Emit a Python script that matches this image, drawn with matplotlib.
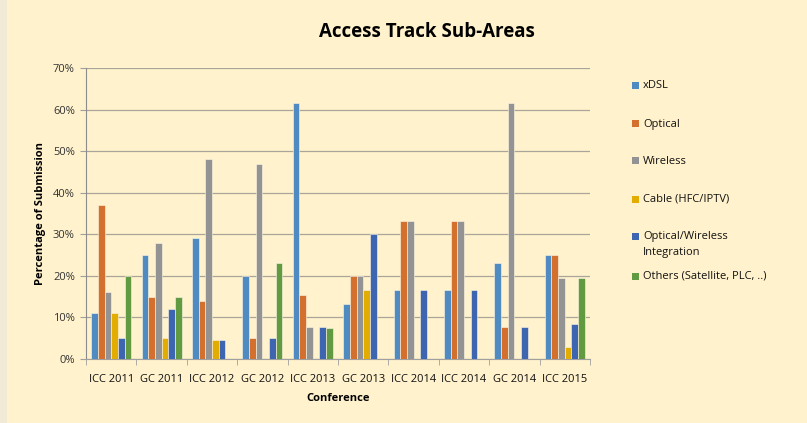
import matplotlib
matplotlib.use("Agg")
import matplotlib.pyplot as plt
import numpy as np
from matplotlib.patches import Rectangle

conferences = ["ICC 2011", "GC 2011", "ICC 2012", "GC 2012", "ICC 2013",
               "GC 2013", "ICC 2014", "ICC 2014", "GC 2014", "ICC 2015"]
series_names = ["xDSL", "Optical", "Wireless", "Cable (HFC/IPTV)",
                "Optical/Wireless\nIntegration", "Others (Satellite, PLC, ..)"]
xdsl     = [11, 25, 29, 20, 61.5, 13.3, 16.7, 16.7, 23.1, 25]
optical  = [37, 15, 14, 5, 15.4, 20, 33.3, 33.3, 7.7, 25]
wireless = [16, 28, 48, 47, 7.7, 20, 33.3, 33.3, 61.5, 19.4]
cable    = [11, 5, 4.5, 0, 0, 16.7, 0, 0, 0, 2.8]
owi      = [5, 12, 4.5, 5, 7.7, 30, 16.7, 16.7, 7.7, 8.3]
others   = [20, 15, 0, 23, 7.4, 0, 0, 0, 0, 19.4]
yticks = [0, 10, 20, 30, 40, 50, 60, 70]

values = [xdsl, optical, wireless, cable, owi, others]
colors = ["#4F8BC1", "#D4702D", "#939393", "#E2AC00", "#3E65B0", "#629A42"]

plt.rcParams['font.family'] = ['Open Sans', 'DejaVu Sans']
W, H = 807, 423
fig = plt.figure(figsize=(W/100, H/100), dpi=100)
bg = "#FFF2CC"
fig.patch.set_facecolor(bg)
fig.patches.append(Rectangle((0, 0), 7/W, 1, transform=fig.transFigure,
                             facecolor="#F2EAD6", edgecolor="none", zorder=0))

ax = fig.add_axes([86/W, 1-359/H, (590-86)/W, (359-68)/H])
ax.set_facecolor(bg)

x = np.arange(len(conferences))
bw = 0.1323
for i, (vals, c) in enumerate(zip(values, colors)):
    ax.bar(x + (i - 2.5) * bw, vals, width=bw, color=c,
           edgecolor="#FFF8E6", linewidth=0.4, zorder=3)

ax.set_xlim(-0.5, len(conferences) - 0.5)
ax.set_ylim(0, 70)
ax.set_yticks(yticks)
ax.set_yticklabels([f"{v}%" for v in yticks], fontsize=8, color="#333333")
ax.yaxis.grid(True, color="#A9A59A", linewidth=0.9, zorder=0)
ax.set_axisbelow(True)
ax.set_xticks(x)
ax.set_xticklabels(conferences, fontsize=8, color="#111111")
ax.set_xticks(np.arange(-0.5, len(conferences), 1), minor=True)
ax.tick_params(axis='x', which='major', length=0, pad=11)
ax.tick_params(axis='x', which='minor', length=4, color="#A0A0A0", direction='out')
ax.tick_params(axis='y', length=4, color="#A0A0A0", direction='out', pad=4)

for s in ["top", "right"]:
    ax.spines[s].set_visible(False)
ax.spines["left"].set_color("#8C8C8C")
ax.spines["bottom"].set_color("#A0A0A0")

ax.set_xlabel("Conference", fontsize=8, fontweight="bold", labelpad=5.5)
ax.set_ylabel("Percentage of Submission", fontsize=8, fontweight="bold", labelpad=5)

fig.text(427/W, 1-32/H, "Access Track Sub-Areas", fontsize=13.5,
         fontweight="bold", ha="center", va="center")

# legend
centers = [86, 124, 161, 199, 237, 276]
for name, c, cy in zip(series_names, colors, centers):
    fig.patches.append(Rectangle((632/W, 1-(cy+3.5)/H), 7/W, 7/H,
                                 transform=fig.transFigure, facecolor=c,
                                 edgecolor="none"))
    fig.text(643/W, 1-(cy-5.5)/H, name, fontsize=8, va="top", ha="left",
             linespacing=1.6, color="#111111")

fig.savefig("out.png", dpi=100, facecolor=fig.get_facecolor())
